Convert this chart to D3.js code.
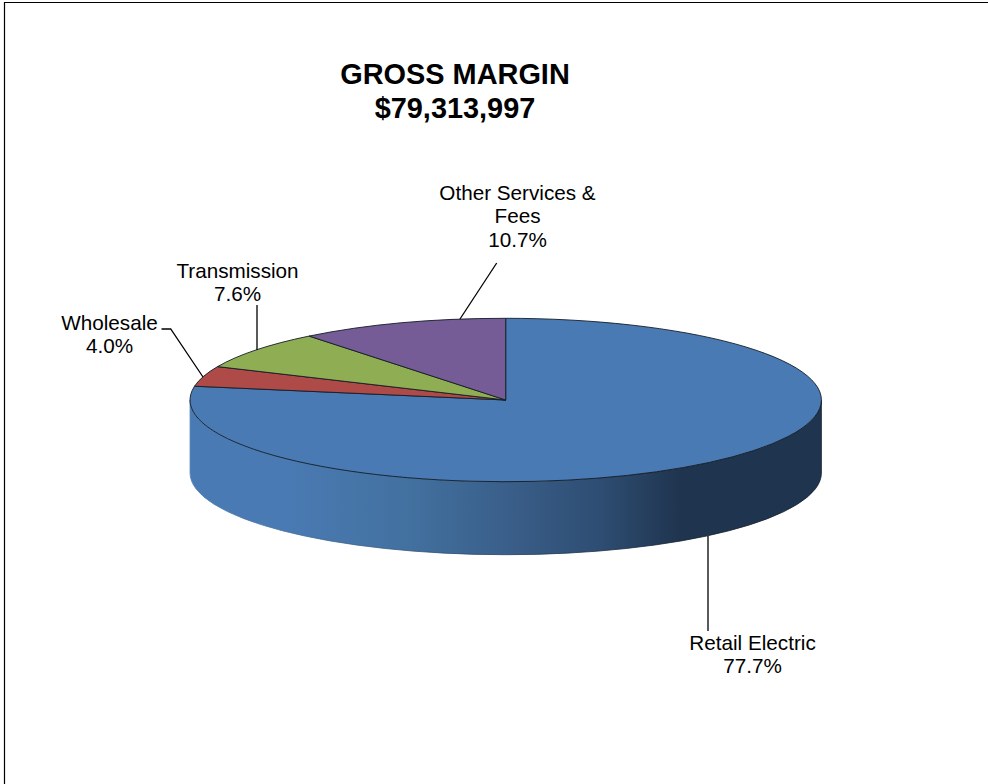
<!DOCTYPE html>
<html><head><meta charset="utf-8">
<script src="https://cdn.jsdelivr.net/npm/d3@7/dist/d3.min.js"></script>
<style>html,body{margin:0;padding:0;background:#fff}svg{display:block}text{font-family:"Liberation Sans",Arial,sans-serif;fill:#000}</style>
</head><body><svg id="c" width="988" height="784"></svg>
<script>
const categories=["Retail Electric","Wholesale","Transmission","Other Services & Fees"];
const shares=[77.7,4.0,7.6,10.7];
const colors=["#4A7AB3","#AE4A47","#8FAE53","#755C96"];
const titleLines=["GROSS MARGIN","$79,313,997"];
const labelLines=[["Retail Electric","77.7%"],["Wholesale","4.0%"],["Transmission","7.6%"],["Other Services &","Fees","10.7%"]];

const W=988,H=784,cx=505.7,cy=400,rx=315.7,ry=81.7,depth=73;
const svg=d3.select("#c");
svg.append("path").attr("d",`M4.5,${H}V2.5H${W}`).attr("fill","none").attr("stroke","#000").attr("stroke-width",1.2);

const defs=svg.append("defs");
function grad(id,stops){
 const g=defs.append("linearGradient").attr("id",id).attr("gradientUnits","userSpaceOnUse")
  .attr("x1",cx-rx).attr("x2",cx+rx).attr("y1",0).attr("y2",0);
 stops.forEach(([o,c])=>g.append("stop").attr("offset",o).attr("stop-color",c));
}
grad("side",[[0,"#4A7AB3"],[0.15,"#4A7AB3"],[0.35,"#42709F"],[0.5,"#3A5F8A"],[0.65,"#2E4D72"],[0.78,"#1F344E"],[1,"#1F344E"]]);
grad("edge",[[0,"#5C88BC"],[0.2,"#41688F"],[0.5,"#2a4363"],[0.8,"#141f2c"],[1,"#141f2c"]]);

// side wall
svg.append("path").attr("fill","url(#side)").attr("stroke","url(#edge)").attr("stroke-width",.8)
 .attr("d",`M${cx-rx},${cy}A${rx},${ry} 0 0 0 ${cx+rx},${cy}V${cy+depth}A${rx},${ry} 0 0 1 ${cx-rx},${cy+depth}Z`);

// top face: circular pie squashed into an ellipse
const pie=d3.pie().sort(null).value(d=>d)(shares);
const arc=d3.arc().innerRadius(0).outerRadius(rx);
svg.append("g").attr("transform",`translate(${cx},${cy}) scale(1,${ry/rx})`)
 .selectAll("path").data(pie).join("path")
 .attr("d",arc).attr("fill",(d,i)=>colors[i])
 .attr("stroke","#141d27").attr("stroke-width",.9).attr("vector-effect","non-scaling-stroke").attr("stroke-linejoin","round");

// leader lines
const leaders=[[[708,536],[708,631]],[[203,377],[170.7,329],[161.5,329]],[[257,350],[257,305]],[[460,319],[496.7,263]]];
const line=d3.line();
svg.append("g").selectAll("path").data(leaders).join("path").attr("d",d=>line(d))
 .attr("fill","none").attr("stroke","#000").attr("stroke-width",1.3);

// labels
const pos=[[752.5,649.5],[109.5,329.7],[237.5,277.5],[517.5,199.5]];
labelLines.forEach((ls,i)=>{
 const t=svg.append("text").attr("text-anchor","middle").attr("font-size",20.7);
 ls.forEach((s,j)=>t.append("tspan").attr("x",pos[i][0]).attr("y",pos[i][1]+j*23.5).text(s));
});
const t=svg.append("text").attr("text-anchor","middle").attr("font-size",28.9).attr("font-weight","bold");
titleLines.forEach((s,j)=>t.append("tspan").attr("x",455).attr("y",84+j*34.3).text(s));
</script></body></html>
